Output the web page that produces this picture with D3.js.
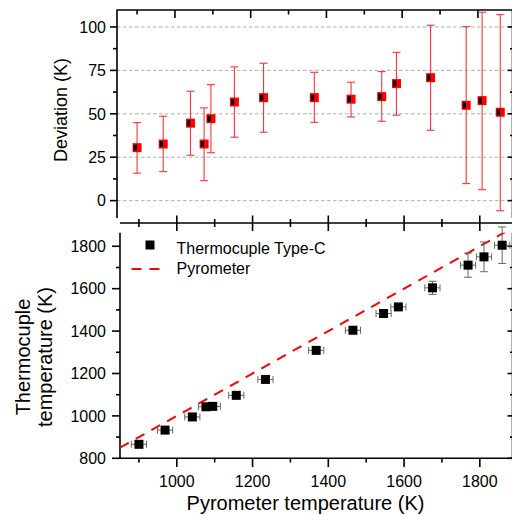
<!DOCTYPE html>
<html><head><meta charset="utf-8">
<script src="https://cdn.jsdelivr.net/npm/d3@7"></script>
<style>html,body{margin:0;padding:0;background:#fff;}svg{display:block;font-family:"Liberation Sans",Arial,sans-serif;}</style>
</head><body>
<svg id="c" width="512" height="515"></svg>
<script>
// ---- data ----
const pyroT    = [900, 969, 1041, 1077, 1095, 1157, 1234, 1368, 1465, 1546, 1585, 1675, 1769, 1811, 1859];
const pyroErr  = [20, 20, 20, 20, 20, 20, 20, 20, 20, 20, 20, 20, 20, 20, 20];
const tcT      = [866, 933, 995, 1043, 1045, 1097, 1172, 1309, 1404, 1483, 1514, 1604, 1711, 1750, 1805];
const tcErr    = [10, 10, 10, 10, 10, 10, 10, 10, 10, 10, 10, 31, 57, 70, 86];
const deviation = [30.5, 32.6, 44.6, 32.6, 47.2, 56.8, 59.3, 59.3, 58.4, 59.9, 67.4, 70.8, 54.9, 57.6, 50.9];
const devHigh   = [44.9, 48.6, 63, 53.4, 66.8, 77, 79.1, 73.9, 68.2, 74.3, 85.4, 101, 100.2, 108.5, 107.1];
const devLow    = [15.8, 16.7, 26.1, 11.5, 27.6, 36.5, 39.4, 45.1, 48.2, 45.7, 49.2, 40.5, 9.8, 6.3, -5.8];
const devTicks  = [0, 25, 50, 75, 100];
const tempTicks = [800, 1000, 1200, 1400, 1600, 1800];
const xTicks    = [1000, 1200, 1400, 1600, 1800];
const legendLabels = ["Thermocuple Type-C", "Pyrometer"];

const svg = d3.select("#c");
const AX = "#000", AXW = 1.6;

// ---- scales ----
const xTop = d3.scaleLinear().domain([847, 1890]).range([117, 512]);
const yTop = d3.scaleLinear().domain([-10, 110]).range([218, 9.6]);
const xBot = d3.scaleLinear().domain([850, 1885]).range([120, 512]);
const yBot = d3.scaleLinear().domain([800, 1864]).range([458.3, 232.7]);

function line(g, x1, y1, x2, y2, stroke, w, dash) {
  const l = g.append("line").attr("x1", x1).attr("y1", y1).attr("x2", x2).attr("y2", y2)
    .attr("stroke", stroke).attr("stroke-width", w);
  if (dash) l.attr("stroke-dasharray", dash);
  return l;
}
function text(g, x, y, s, size, anchor, rot) {
  const t = g.append("text").attr("font-size", size).attr("fill", "#000")
    .attr("text-anchor", anchor || "start").text(s);
  if (rot) t.attr("transform", `translate(${x},${y}) rotate(${rot})`);
  else t.attr("x", x).attr("y", y);
  return t;
}
function minorsBetween(ticks, step) { return ticks.slice(0, -1).map(t => t + step / 2); }

// ================= TOP PANEL =================
const gTop = svg.append("g");
devTicks.forEach(v => line(gTop, 117, yTop(v), 507, yTop(v), "#b0b0b0", 1, "3.5,2.5"));
line(gTop, 117, 9.6, 117, 218, AX, AXW);
line(gTop, 117, 10, 512, 10, AX, AXW);
line(gTop, 512.5, 10, 512.5, 218, AX, AXW);
devTicks.forEach(v => { line(gTop, 110, yTop(v), 117, yTop(v), AX, AXW); text(gTop, 106, yTop(v) + 5.7, String(v), 16, "end"); });
minorsBetween(devTicks, 25).forEach(v => line(gTop, 113, yTop(v), 117, yTop(v), AX, AXW));
devTicks.forEach(v => line(gTop, 507.5, yTop(v), 512, yTop(v), AX, AXW));
minorsBetween(devTicks, 25).forEach(v => line(gTop, 510, yTop(v), 512, yTop(v), AX, AXW));
xTicks.forEach(v => line(gTop, xTop(v), 10, xTop(v), 18, AX, AXW));
[900, 1100, 1300, 1500, 1700].forEach(v => line(gTop, xTop(v), 10, xTop(v), 14.5, AX, AXW));
// error bars
const ebTop = gTop.append("g");
pyroT.forEach((x, i) => {
  const px = xTop(x);
  line(ebTop, px, yTop(devHigh[i]), px, yTop(devLow[i]), "#ff3333", 1.1);
  line(ebTop, px - 4, yTop(devHigh[i]), px + 4, yTop(devHigh[i]), "#ff3333", 1.1);
  line(ebTop, px - 4, yTop(devLow[i]), px + 4, yTop(devLow[i]), "#ff3333", 1.1);
});
// markers
gTop.append("g").selectAll("g").data(pyroT).join("g").each(function (x, i) {
  const g = d3.select(this), px = xTop(x), py = yTop(deviation[i]);
  g.append("rect").attr("x", px - 4.5).attr("y", py - 4.5).attr("width", 9).attr("height", 9).attr("fill", "#ff0000");
  g.append("rect").attr("x", px - 3.5).attr("y", py - 3).attr("width", 3.4).attr("height", 6).attr("fill", "#000");
});
text(gTop, 67, 110, "Deviation (K)", 18, "middle", -90);

// ================= BOTTOM PANEL =================
const gBot = svg.append("g");
line(gBot, 120, 223, 512, 223, AX, AXW);
line(gBot, 120, 232.7, 120, 459, AX, AXW);
line(gBot, 119.2, 458.3, 512, 458.3, AX, AXW);
line(gBot, 512.5, 232.7, 512.5, 458.3, AX, AXW);
xTicks.forEach(v => line(gBot, xBot(v), 215.5, xBot(v), 231, AX, AXW));
[900, 1100, 1300, 1500, 1700].forEach(v => line(gBot, xBot(v), 219, xBot(v), 227, AX, AXW));
xTicks.forEach(v => { line(gBot, xBot(v), 458.3, xBot(v), 467, AX, AXW); text(gBot, xBot(v), 487, String(v), 16, "middle"); });
[900, 1100, 1300, 1500, 1700].forEach(v => line(gBot, xBot(v), 458.3, xBot(v), 462.5, AX, AXW));
tempTicks.forEach(v => { line(gBot, 112, yBot(v), 120, yBot(v), AX, AXW); text(gBot, 106, yBot(v) + 5.7, String(v), 16, "end"); });
minorsBetween(tempTicks, 200).forEach(v => line(gBot, 116, yBot(v), 120, yBot(v), AX, AXW));
tempTicks.forEach(v => line(gBot, 507.5, yBot(v), 512, yBot(v), AX, AXW));
minorsBetween(tempTicks, 200).forEach(v => line(gBot, 510, yBot(v), 512, yBot(v), AX, AXW));

// pyrometer y = x line (clipped)
svg.append("clipPath").attr("id", "clipB").append("rect").attr("x", 120).attr("y", 232.7).attr("width", 392).attr("height", 225.6);
const diag = [850, 1885];
gBot.append("path").attr("clip-path", "url(#clipB)")
  .attr("d", d3.line().x(d => xBot(d)).y(d => yBot(d))(diag))
  .attr("fill", "none").attr("stroke", "#ff0000").attr("stroke-width", 2).attr("stroke-dasharray", "10,8");

// error bars
const EB = "#666666";
pyroT.forEach((x, i) => {
  const px = xBot(x), py = yBot(tcT[i]);
  const xl = xBot(x - pyroErr[i]), xr = xBot(x + pyroErr[i]);
  line(gBot, xl, py, xr, py, EB, 1);
  line(gBot, xl, py - 3.5, xl, py + 3.5, EB, 1);
  line(gBot, xr, py - 3.5, xr, py + 3.5, EB, 1);
  const yt = yBot(tcT[i] + tcErr[i]), yb = yBot(tcT[i] - tcErr[i]);
  line(gBot, px, yt, px, yb, EB, 1);
  line(gBot, px - 4, yt, px + 4, yt, EB, 1);
  line(gBot, px - 4, yb, px + 4, yb, EB, 1);
});
gBot.append("g").selectAll("rect").data(pyroT).join("rect")
  .attr("x", (d) => xBot(d) - 4.5).attr("y", (d, i) => yBot(tcT[i]) - 4.5)
  .attr("width", 9).attr("height", 9).attr("fill", "#000");

// legend
const lg = gBot.append("g");
lg.append("rect").attr("x", 145.5).attr("y", 240.5).attr("width", 9).attr("height", 9).attr("fill", "#000");
text(lg, 176.5, 254, legendLabels[0], 16, "start");
line(lg, 131.5, 269, 160, 269, "#ff0000", 2, "10,8");
text(lg, 176.5, 273.5, legendLabels[1], 16, "start");

// axis titles
text(gBot, 305.5, 510, "Pyrometer temperature (K)", 20, "middle");
const ytl = gBot.append("text").attr("font-size", 20).attr("text-anchor", "middle")
  .attr("transform", "translate(0,357) rotate(-90)");
ytl.append("tspan").attr("x", 0).attr("y", 30).text("Thermocuple");
ytl.append("tspan").attr("x", 0).attr("y", 52).text("temperature (K)");
</script>
</body></html>
